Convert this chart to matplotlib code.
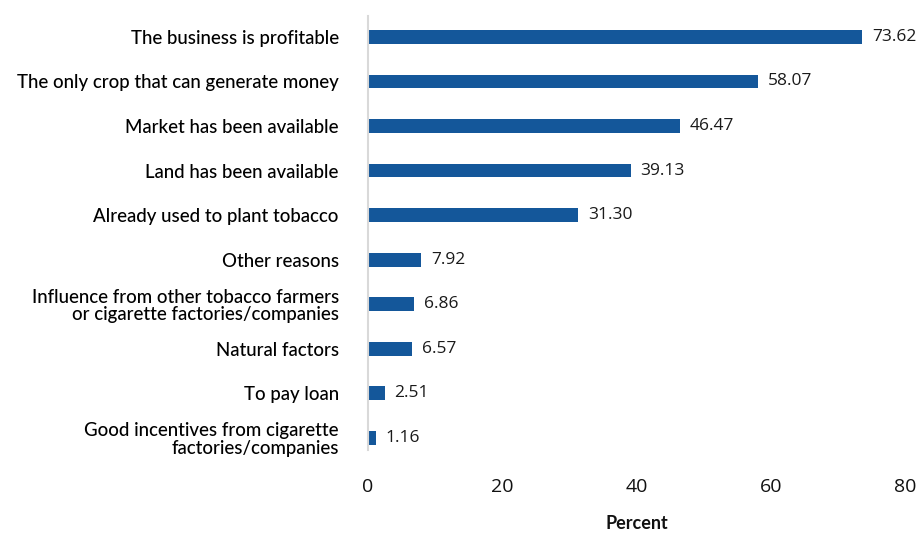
import matplotlib
matplotlib.use("Agg")
from matplotlib import pyplot as plt
import numpy as np

reasons = [
    "The business is profitable",
    "The only crop that can generate money",
    "Market has been available",
    "Land has been available",
    "Already used to plant tobacco",
    "Other reasons",
    "Influence from other tobacco farmers\nor cigarette factories/companies",
    "Natural factors",
    "To pay loan",
    "Good incentives from cigarette\nfactories/companies",
]
percent = [73.62, 58.07, 46.47, 39.13, 31.30, 7.92, 6.86, 6.57, 2.51, 1.16]

bar_color = "#14579a"

fig = plt.figure(figsize=(9.23, 5.33), dpi=100)
ax = fig.add_axes([0.3987, 0.156, 0.5818, 0.814])

y = np.arange(len(reasons))
bars = ax.barh(y, percent, height=0.31, color=bar_color)

for rect, val in zip(bars, percent):
    ax.annotate(f"{val:.2f}",
                xy=(rect.get_width(), rect.get_y() + rect.get_height() / 2),
                xytext=(7, 0), textcoords="offset points",
                ha="left", va="center", fontsize=12.5,
                family="Open Sans", color="#1a1a1a")

ax.set_yticks(y, labels=reasons)
ax.set_ylim(9.27, -0.47)
ax.set_xlim(0, 80)
ax.set_xticks([0, 20, 40, 60, 80])

for lbl in ax.get_yticklabels():
    lbl.set_family("Lato")
    lbl.set_fontsize(13.4)
    lbl.set_fontweight("medium")
    lbl.set_linespacing(1.05)
for lbl in ax.get_xticklabels():
    lbl.set_family("Open Sans")
    lbl.set_fontsize(14)

ax.tick_params(axis="y", length=0, pad=21, colors="#000000")
ax.tick_params(axis="x", length=0, pad=20, colors="#111111")

for side in ["top", "right", "bottom"]:
    ax.spines[side].set_visible(False)
ax.spines["left"].set_color("#d9d9d9")
ax.spines["left"].set_linewidth(1.5)

ax.set_xlabel("Percent", family="Lato", fontweight="bold", fontsize=13,
              labelpad=14, color="#111111")

fig.savefig("out.png", dpi=100)
